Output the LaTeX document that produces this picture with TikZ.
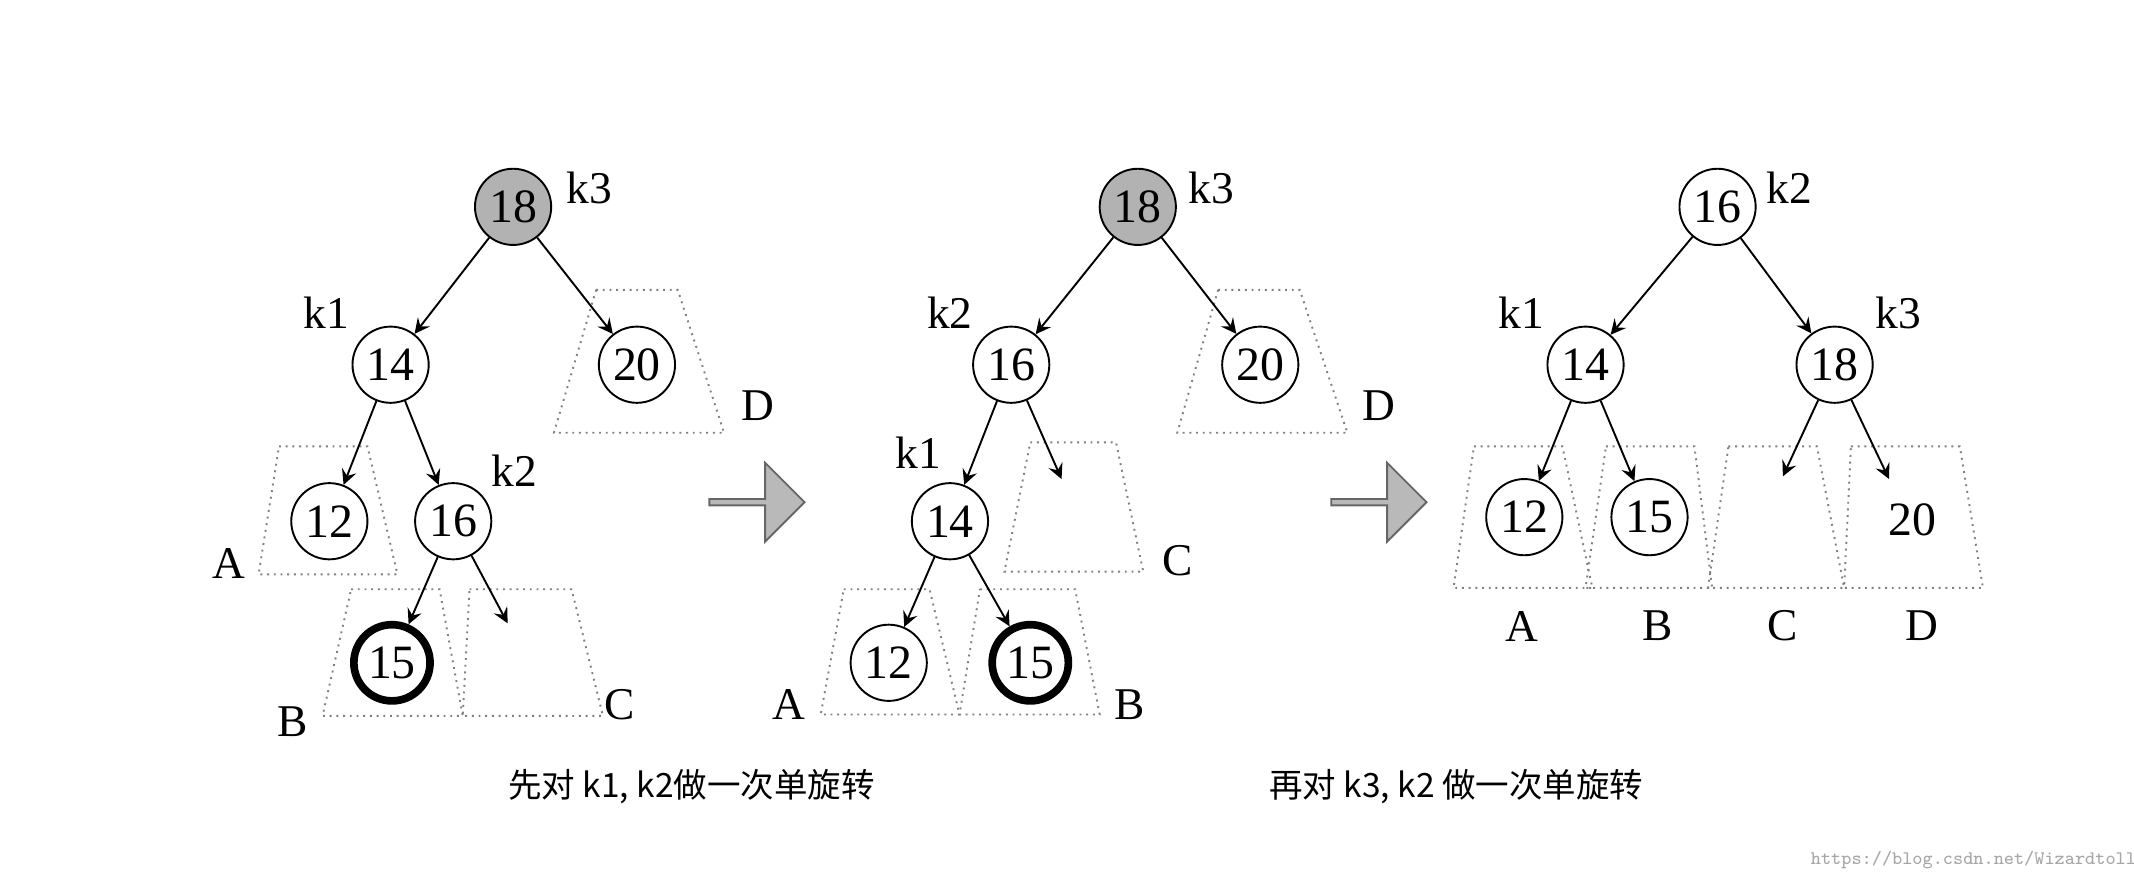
\documentclass[tikz,border=0pt]{standalone}
\usepackage{fontspec}
\setmainfont{Liberation Serif}
\newfontfamily\cjk{Noto Sans CJK SC}
\usetikzlibrary{shapes.arrows}
\tikzset{
  nd/.style={circle,draw,minimum size=0.56cm,inner sep=0pt,font=\fontsize{10}{12}\selectfont},
  hot/.style={nd,fill=gray!60},
  ins/.style={nd,line width=1.6pt},
  lab/.style={font=\fontsize{9.5}{11}\selectfont},
  trap/.style={densely dotted,gray,line width=0.4pt},
  lnk/.style={->,>=stealth,line width=0.4pt},
  big/.style={single arrow,draw=gray!80!black,fill=gray!55,minimum height=0.7cm,minimum width=0.58cm,single arrow head extend=0.08cm,inner sep=0pt}
}
\begin{document}
\begin{tikzpicture}[x=1cm,y=-1cm]
\useasboundingbox (0,0) rectangle (15.68,6.45);
% Baum 1
\node[hot](a18) at (3.77,1.52){18};
\node[nd](a14) at (2.87,2.68){14};
\node[nd](a20) at (4.68,2.68){20};
\node[nd](a12) at (2.42,3.83){12};
\node[nd](a16) at (3.33,3.83){16};
\node[ins](a15) at (2.88,4.87){15};
\coordinate (ac) at (3.73,4.58);
\node[lab] at (4.33,1.38){k3};
\node[lab] at (2.40,2.30){k1};
\node[lab] at (3.78,3.46){k2};
\node[lab] at (5.57,2.98){D};
\node[lab] at (1.68,4.14){A};
\node[lab] at (2.15,5.30){B};
\node[lab] at (4.55,5.18){C};
\draw[trap] (4.38,2.13)--(4.98,2.13)--(5.32,3.18)--(4.07,3.18)--cycle;
\draw[trap] (2.05,3.28)--(2.70,3.28)--(2.92,4.22)--(1.90,4.22)--cycle;
\draw[trap] (2.58,4.33)--(3.23,4.33)--(3.40,5.26)--(2.37,5.26)--cycle;
\draw[trap] (3.45,4.33)--(4.20,4.33)--(4.43,5.26)--(3.40,5.26)--cycle;
\draw[lnk](a18)--(a14);
\draw[lnk](a18)--(a20);
\draw[lnk](a14)--(a12);
\draw[lnk](a14)--(a16);
\draw[lnk](a16)--(a15);
\draw[lnk](a16)--(ac);
% Pfeil 1
\node[big](p1) at (5.55,3.69){};
% Baum 2
\node[hot](b18) at (8.36,1.52){18};
\node[nd](b16) at (7.43,2.68){16};
\node[nd](b20) at (9.26,2.68){20};
\node[nd](b14) at (6.98,3.83){14};
\node[nd](b12) at (6.53,4.87){12};
\node[ins](b15) at (7.57,4.87){15};
\coordinate (bc) at (7.80,3.52);
\node[lab] at (8.90,1.38){k3};
\node[lab] at (6.98,2.30){k2};
\node[lab] at (6.75,3.33){k1};
\node[lab] at (10.13,2.98){D};
\node[lab] at (8.65,4.12){C};
\node[lab] at (5.80,5.18){A};
\node[lab] at (8.30,5.18){B};
\draw[trap] (8.95,2.13)--(9.55,2.13)--(9.90,3.18)--(8.65,3.18)--cycle;
\draw[trap] (7.57,3.25)--(8.20,3.25)--(8.40,4.20)--(7.38,4.20)--cycle;
\draw[trap] (6.20,4.33)--(6.83,4.33)--(7.05,5.25)--(6.03,5.25)--cycle;
\draw[trap] (7.20,4.33)--(7.90,4.33)--(8.08,5.25)--(7.05,5.25)--cycle;
\draw[lnk](b18)--(b16);
\draw[lnk](b18)--(b20);
\draw[lnk](b16)--(b14);
\draw[lnk](b16)--(bc);
\draw[lnk](b14)--(b12);
\draw[lnk](b14)--(b15);
% Pfeil 2
\node[big](p2) at (10.12,3.69){};
% Baum 3
\node[nd](c16) at (12.62,1.52){16};
\node[nd](c14) at (11.65,2.68){14};
\node[nd](c18) at (13.48,2.68){18};
\node[nd](c12) at (11.20,3.80){12};
\node[nd](c15) at (12.12,3.80){15};
\node[font=\fontsize{10}{12}\selectfont](c20) at (14.05,3.82){20};
\coordinate (cc) at (13.10,3.50);
\coordinate (cd) at (13.88,3.52);
\node[lab] at (13.15,1.38){k2};
\node[lab] at (11.18,2.30){k1};
\node[lab] at (13.95,2.30){k3};
\node[lab] at (11.18,4.60){A};
\node[lab] at (12.18,4.60){B};
\node[lab] at (13.10,4.60){C};
\node[lab] at (14.12,4.60){D};
\draw[trap] (10.83,3.28)--(11.48,3.28)--(11.70,4.32)--(10.68,4.32)--cycle;
\draw[trap] (11.80,3.28)--(12.45,3.28)--(12.58,4.32)--(11.65,4.32)--cycle;
\draw[trap] (12.70,3.28)--(13.35,3.28)--(13.55,4.32)--(12.55,4.32)--cycle;
\draw[trap] (13.60,3.28)--(14.40,3.28)--(14.57,4.32)--(13.55,4.32)--cycle;
\draw[lnk](c16)--(c14);
\draw[lnk](c16)--(c18);
\draw[lnk](c14)--(c12);
\draw[lnk](c14)--(c15);
\draw[lnk](c18)--(cc);
\draw[lnk](c18)--(cd);
% Beschriftung
\node[font=\cjk\fontsize{7}{8}\selectfont](t1) at (5.08,5.78){先对 k1, k2做一次单旋转};
\node[font=\cjk\fontsize{7}{8}\selectfont](t2) at (10.70,5.78){再对 k3, k2 做一次单旋转};
\node[font=\ttfamily\fontsize{4}{5}\selectfont,text=gray!70](wm) at (14.50,6.32){https://blog.csdn.net/Wizardtoll};
\end{tikzpicture}
\end{document}
